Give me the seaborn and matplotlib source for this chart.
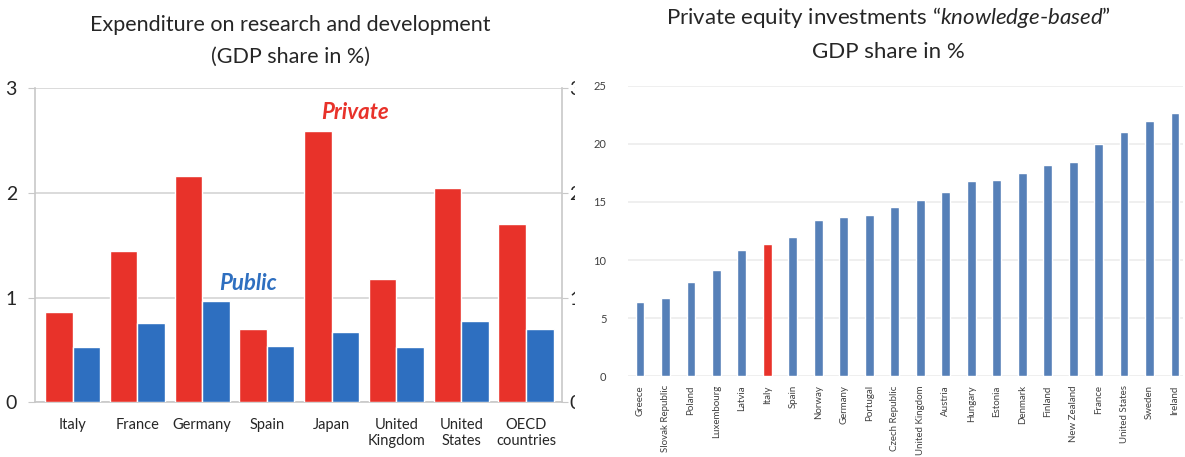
import pandas as pd
import numpy as np
import matplotlib.pyplot as plt
import seaborn as sns
from matplotlib.patches import Rectangle

# R&D expenditure, GDP share in %
rd_countries = ["Italy", "France", "Germany", "Spain", "Japan",
                "United\nKingdom", "United\nStates", "OECD\ncountries"]
rd_private = [0.86, 1.44, 2.16, 0.70, 2.59, 1.18, 2.05, 1.70]
rd_public = [0.53, 0.76, 0.97, 0.54, 0.67, 0.53, 0.78, 0.70]

# Private equity investments "knowledge-based", GDP share in %
pe_countries = ["Greece", "Slovak Republic", "Poland", "Luxembourg", "Latvia",
                "Italy", "Spain", "Norway", "Germany", "Portugal",
                "Czech Republic", "United Kingdom", "Austria", "Hungary",
                "Estonia", "Denmark", "Finland", "New Zealand", "France",
                "United States", "Sweden", "Ireland"]
pe_values = [6.38, 6.69, 8.14, 9.17, 10.85, 11.36, 12.02, 13.41, 13.72,
             13.84, 14.55, 15.18, 15.89, 16.77, 16.86, 17.54, 18.22, 18.42,
             19.99, 21.04, 21.95, 22.64]

RED = "#E8322A"
BLUE = "#2E6FC0"
PE_BLUE = "#5680B8"

sns.set_style("white")
plt.rcParams['font.family'] = ['Lato', 'DejaVu Sans']
plt.rcParams['mathtext.fontset'] = 'custom'
plt.rcParams['mathtext.it'] = 'Lato:italic'
plt.rcParams['mathtext.rm'] = 'Lato'

fig = plt.figure(figsize=(11.85, 4.57), dpi=100)
ax1 = fig.add_axes([0.0295, 0.120, 0.445, 0.687])
ax2 = fig.add_axes([0.530, 0.177, 0.468, 0.635])

# --- left: R&D private vs public ---
rd_df = pd.DataFrame({
    "Country": rd_countries * 2,
    "Value": rd_private + rd_public,
    "Sector": ["Private"] * len(rd_countries) + ["Public"] * len(rd_countries),
})
sns.barplot(data=rd_df, x="Country", y="Value", hue="Sector",
            palette={"Private": RED, "Public": BLUE}, width=0.85,
            saturation=1, legend=False, ax=ax1, zorder=3)
ax1.set_ylim(0, 3)
ax1.set_xlim(-0.58, len(rd_countries) - 0.44)
ax1.set_yticks([0, 1, 2, 3])
ax1.yaxis.grid(True, color="#d4d4d4", linewidth=1.2)
ax1.set_axisbelow(True)
ax1.set_xlabel("")
ax1.set_ylabel("")
ax1.spines["top"].set_visible(False)
for s in ["left", "right", "bottom"]:
    ax1.spines[s].set_color("#c8c8c8")
    ax1.spines[s].set_linewidth(1.2)
ax1.tick_params(axis="y", which="both", left=True, length=5, color="#c8c8c8",
                labelsize=14, pad=8)
ax1.tick_params(axis="x", bottom=False, labelsize=10.5, pad=8)
ax1.text(4.36, 2.71, "Private", color=RED, fontsize=16, fontweight="bold",
         fontstyle="italic", ha="center")
ax1.text(2.71, 1.07, "Public", color=BLUE, fontsize=16, fontweight="bold",
         fontstyle="italic", ha="center")
ax1.set_title("Expenditure on research and development\n(GDP share in %)",
              fontsize=15.5, linespacing=1.75, pad=18, x=0.484)

tw = ax1.twinx()
tw.set_ylim(0, 3)
tw.set_yticks([0, 1, 2, 3])
tw.tick_params(axis="y", right=True, length=4, color="#c8c8c8", labelsize=14,
               pad=1)
for s in tw.spines.values():
    s.set_visible(False)

# crop the right-hand labels as in the source image
fig.patches.append(Rectangle((575 / 1185, 0.0), 15 / 1185, 1.0,
                             transform=fig.transFigure,
                             facecolor="white", edgecolor="none", zorder=5))

# --- right: private equity investments ---
pe_df = pd.DataFrame({"Country": pe_countries, "Value": pe_values})
pe_palette = {c: (RED if c == "Italy" else PE_BLUE) for c in pe_countries}
sns.barplot(data=pe_df, x="Country", y="Value", hue="Country",
            palette=pe_palette, width=0.35, saturation=1, legend=False,
            ax=ax2, zorder=3)
ax2.set_ylim(0, 25)
ax2.set_xlim(-0.47, len(pe_countries) - 0.7)
ax2.set_yticks([0, 5, 10, 15, 20, 25])
ax2.yaxis.grid(True, color="#ececec", linewidth=1.2)
ax2.set_axisbelow(True)
sns.despine(ax=ax2, left=True, bottom=True)
ax2.set_xlabel("")
ax2.set_ylabel("")
ax2.tick_params(axis="y", left=False, labelsize=8, pad=12, labelcolor="#404040")
ax2.tick_params(axis="x", bottom=False, labelsize=7, labelrotation=90, pad=3,
                labelcolor="#404040")
ax2.set_title("Private equity investments “$\\mathit{knowledge}$-$\\mathit{based}$”\n"
              "GDP share in %", fontsize=16, linespacing=1.75, pad=20, x=0.47)

fig.savefig("out.png", dpi=100)
